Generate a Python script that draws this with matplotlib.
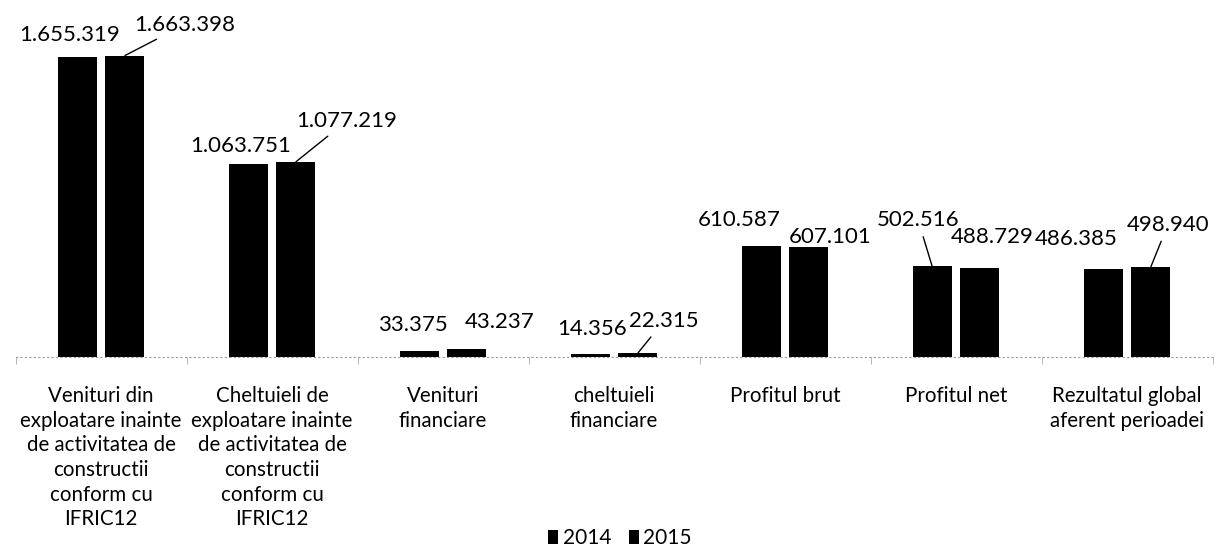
import numpy as np
import matplotlib.pyplot as plt

plt.rcParams['font.family'] = ['Lato', 'DejaVu Sans']

# categorii si valori (mii lei)
categorii = [
    'Venituri din\nexploatare inainte\nde activitatea de\nconstructii\nconform cu\nIFRIC12',
    'Cheltuieli de\nexploatare inainte\nde activitatea de\nconstructii\nconform cu\nIFRIC12',
    'Venituri\nfinanciare',
    'cheltuieli\nfinanciare',
    'Profitul brut',
    'Profitul net',
    'Rezultatul global\naferent perioadei',
]
ani = ['2014', '2015']
valori_2014 = [1655319, 1063751, 33375, 14356, 610587, 502516, 486385]
valori_2015 = [1663398, 1077219, 43237, 22315, 607101, 488729, 498940]

# pozitia etichetelor fata de varful barei (pixeli) si liniile de legatura
offset_2014 = [(-7, 22), (-7, 18), (-6, 26), (2, 25), (-22, 26), (-14, 46), (-27, 30)]
offset_2015 = [(60, 31), (51, 41), (33, 27), (26, 32), (21, 10), (12, 31), (17, 42)]
leader_2014 = [False, False, False, False, False, True, False]
leader_2015 = [True, True, False, True, False, False, True]


def fmt(v):
    return f'{v:,}'.replace(',', '.')


fig = plt.figure(figsize=(12.18, 5.5), dpi=100)
ax = fig.add_axes([15.5 / 1218, 193 / 550, 1197 / 1218, 357 / 550])

x = np.arange(len(categorii))
w = 0.228
d = 0.14
b1 = ax.bar(x - d, valori_2014, w, color='black', label=ani[0])
b2 = ax.bar(x + d, valori_2015, w, color='black', label=ani[1])

for xs, vals, offs, leads in [(x - d, valori_2014, offset_2014, leader_2014),
                              (x + d, valori_2015, offset_2015, leader_2015)]:
    for xi, v, (dx, dy), lead in zip(xs, vals, offs, leads):
        kw = {}
        if lead:
            kw['arrowprops'] = dict(arrowstyle='-', color='black', lw=1.0,
                                    shrinkA=3, shrinkB=0)
        ax.annotate(fmt(v), xy=(xi, v), xytext=(dx, dy), textcoords='offset pixels',
                    ha='center', va='center', fontsize=16, color='black', **kw)

ax.set_xlim(-0.5, len(categorii) - 0.5)
ax.set_ylim(0, 1.97e6)
ax.set_xticks(x)
ax.set_xticklabels(categorii, fontsize=14.8, linespacing=1.29)
ax.tick_params(axis='x', which='major', length=0, pad=21)
ax.set_xticks(np.arange(-0.5, len(categorii)), minor=True)
ax.tick_params(axis='x', which='minor', length=5, color='#aaaaaa', width=0.6)
ax.set_yticks([])
for s in ['top', 'right', 'left']:
    ax.spines[s].set_visible(False)
ax.spines['bottom'].set_color('#999999')
ax.spines['bottom'].set_linestyle((0, (1, 3)))
ax.spines['bottom'].set_linewidth(0.8)

fig.legend(handles=[b1, b2], loc='center', bbox_to_anchor=(620 / 1218, 1 - 538 / 550),
           ncol=2, frameon=False, fontsize=15, handlelength=0.5, handleheight=0.65,
           handletextpad=0.2, columnspacing=0.85, borderpad=0)

fig.savefig('out.png', dpi=100)
